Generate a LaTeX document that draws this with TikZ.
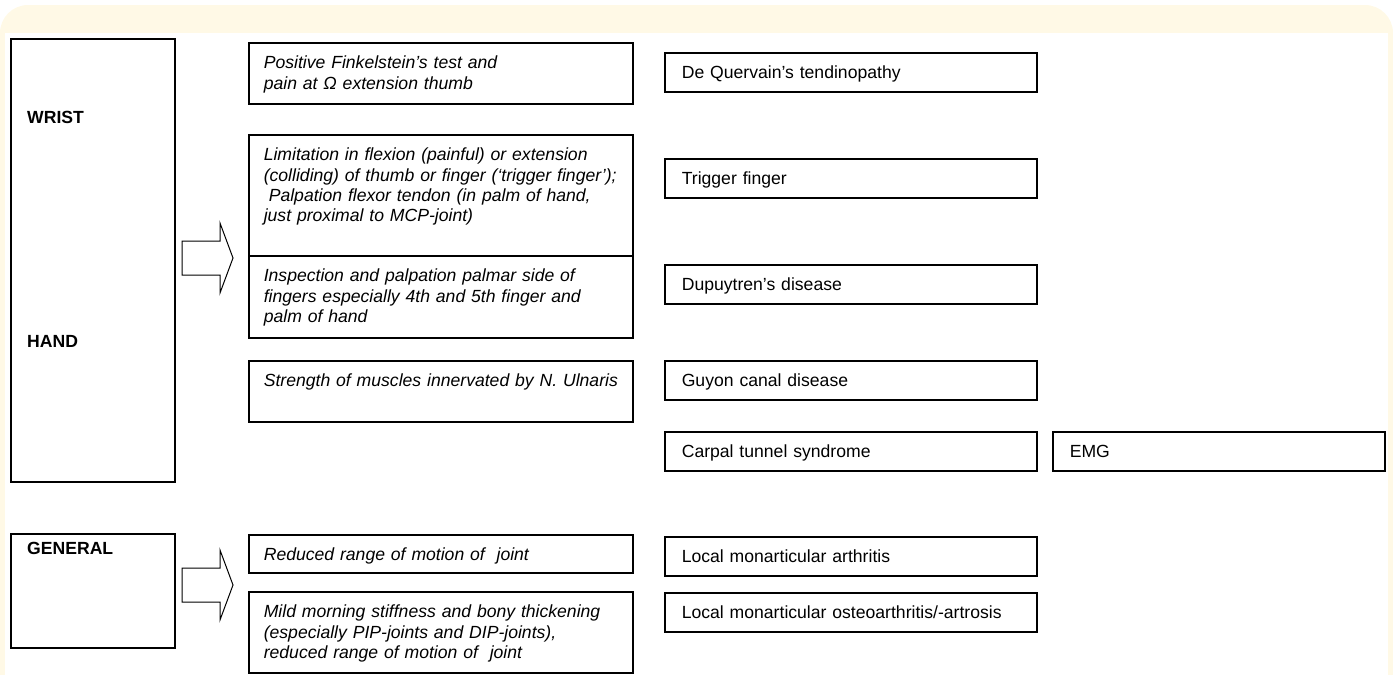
\documentclass[tikz,border=0pt]{standalone}
\usepackage{fontspec}
\setmainfont{Liberation Sans}
\usepackage{tikz}
\usetikzlibrary{positioning,calc}
\definecolor{paleyellow}{RGB}{255,249,230}
\newcommand{\figfont}{\fontsize{17.6}{20.2}\selectfont}

\begin{document}
\begin{tikzpicture}[x=1pt, y=-1pt,
    region/.style={draw, line width=1.6pt, anchor=north west, inner sep=0pt, minimum width=164},
    regionlabel/.style={anchor=base west, inner sep=0pt, font=\figfont\bfseries},
    finding/.style={draw, line width=1.6pt, anchor=north west, inner xsep=15pt, inner ysep=0pt,
        text width=354pt, align=left, text height=26pt, text depth=#1, font=\figfont\itshape},
    diagnosis/.style={draw, line width=1.6pt, anchor=north west, inner xsep=17pt, inner ysep=0pt,
        text width=338pt, align=left, text height=26pt, text depth=13pt, font=\figfont},
    fatarrow/.pic={\draw[line width=1pt] (0,-17) -- (38,-17) -- (38,-35) -- (51,0)
        -- (38,35) -- (38,17) -- (0,17) -- cycle;}]
    % background frame
    \useasboundingbox (0,0) rectangle (1393,675);
    \begin{scope}
        \clip (0,0) rectangle (1393,675);
        \fill[paleyellow, rounded corners=28] (0,5) rectangle (1393,720);
    \end{scope}
    \fill[white] (5,33) rectangle (1388,675);

    % Wrist and hand
    \node[region, minimum height=443] (wristhand) at (10,38) {};
    \node[regionlabel] (wrist) at (27,123) {WRIST};
    \node[regionlabel] (hand) at (27,347) {HAND};
    \pic at (182,258) {fatarrow};

    \node[finding=35pt] (finkelstein) at (248,42) {Positive Finkelstein’s test and\\
        pain at Ω extension thumb};
    \node[finding=95pt] (limitation) at (248,134) {Limitation in flexion (painful) or extension\\
        (colliding) of thumb or finger (‘trigger finger’);\\
        \hspace*{5pt}Palpation flexor tendon (in palm of hand,\\
        just proximal to MCP-joint)};
    \node[finding=56pt] (inspection) at (248,255) {Inspection and palpation palmar side of\\
        fingers especially 4th and 5th finger and\\
        palm of hand};
    \node[finding=35pt] (ulnaris) at (248,360) {\mbox{Strength of muscles innervated by N. Ulnaris}};

    \node[diagnosis] (quervain) at (664,52) {De Quervain’s tendinopathy};
    \node[diagnosis] (trigger) at (664,158) {Trigger finger};
    \node[diagnosis] (dupuytren) at (664,264) {Dupuytren’s disease};
    \node[diagnosis] (guyon) at (664,360) {Guyon canal disease};
    \node[diagnosis] (carpal) at (664,431) {Carpal tunnel syndrome};
    \node[diagnosis, text width=298pt] (emg) at (1052,431) {EMG};

    % General
    \node[region, minimum height=114] (general) at (10,533) {};
    \node[regionlabel] (generallabel) at (27,554) {GENERAL};
    \pic at (182,585) {fatarrow};

    \node[finding=12pt] (reduced) at (248,534) {Reduced range of motion of\ \ joint};
    \node[finding=55pt] (stiffness) at (248,591) {Mild morning stiffness and bony thickening\\
        (especially PIP-joints and DIP-joints),\\
        reduced range of motion of\ \ joint};

    \node[diagnosis] (arthritis) at (664,536) {Local monarticular arthritis};
    \node[diagnosis] (osteo) at (664,592) {Local monarticular osteoarthritis/-artrosis};
\end{tikzpicture}
\end{document}
